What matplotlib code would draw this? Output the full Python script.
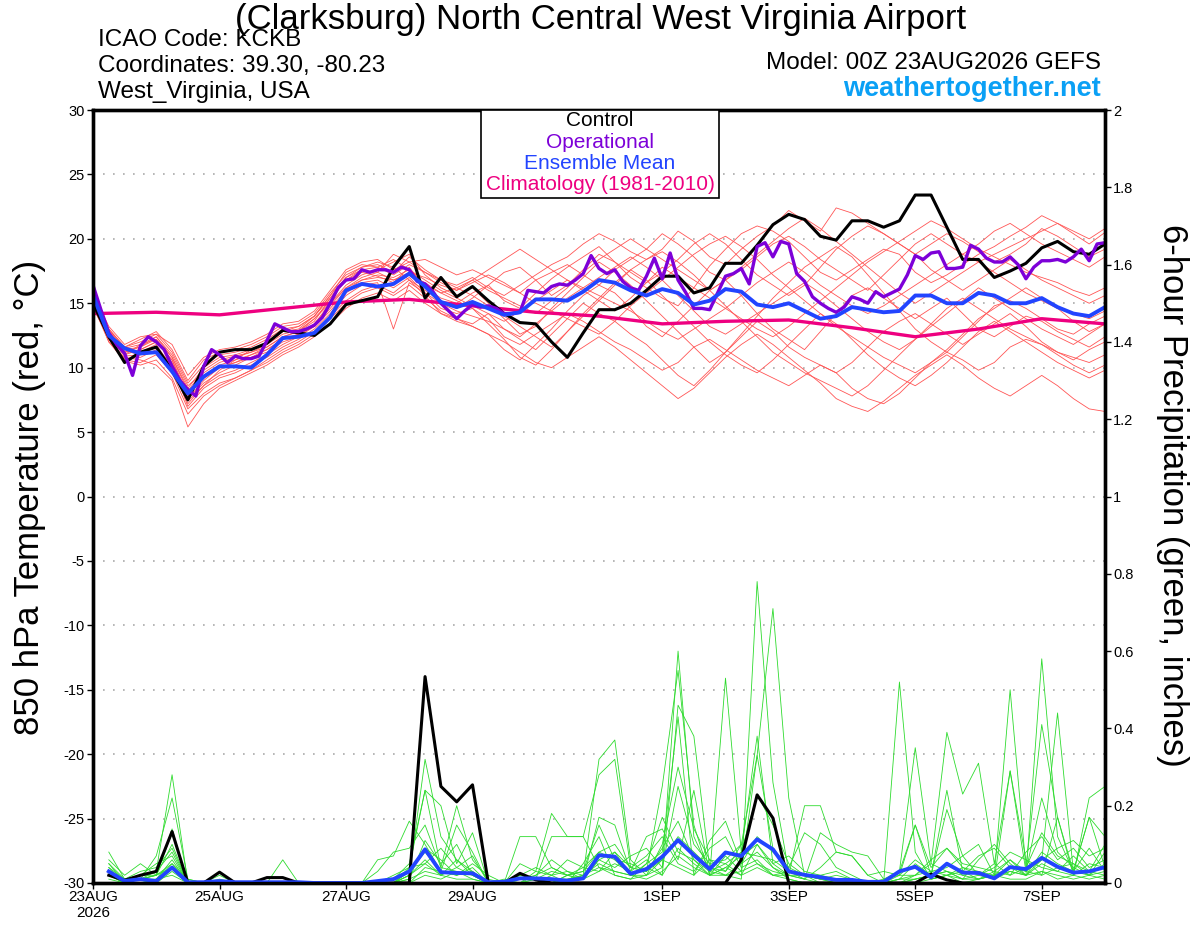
import matplotlib
matplotlib.use('Agg')
import matplotlib.pyplot as plt
from matplotlib.patches import Rectangle
from matplotlib.ticker import FormatStrFormatter
import numpy as np

plt.rcParams['font.family'] = ['Liberation Sans', 'DejaVu Sans']
plt.rcParams['axes.unicode_minus'] = False

# ---- time axes (hours after 00Z 23AUG2026) ----
hours = np.arange(0, 385, 6)        # 65 six-hourly steps
hours_op = np.arange(0, 385, 3)     # operational run is 3-hourly
hours_pcp = hours[1:]               # 6-h precip totals start at +6h
hours_clim = np.arange(0, 385, 24)

tick_hours = [0, 48, 96, 144, 216, 264, 312, 360]
tick_labels = ['23AUG\n2026', '25AUG', '27AUG', '29AUG', '1SEP', '3SEP', '5SEP', '7SEP']

# ---- 850 hPa temperature (C) ----
control_t = [15.0, 12.4, 10.4, 11.2, 11.6, 9.8, 7.5, 10.1, 11.2, 11.4,
             11.4, 11.9, 12.9, 12.7, 12.5, 13.4, 14.9, 15.2, 15.5, 17.8,
             19.4, 15.4, 17.0, 15.5, 16.3, 15.2, 14.2, 13.5, 13.4, 12.0,
             10.8, 12.7, 14.5, 14.5, 15.0, 16.0, 17.1, 17.1, 15.8, 16.2,
             18.1, 18.1, 19.5, 21.1, 21.9, 21.5, 20.2, 19.9, 21.4, 21.4,
             20.9, 21.4, 23.4, 23.4, 20.9, 18.4, 18.4, 17.0, 17.5, 18.1,
             19.3, 19.8, 19.0, 18.8, 19.6]

oper_t = [16.4, 14.5, 12.7, 11.8, 11.1, 9.4, 11.7, 12.4, 12.0, 11.4,
          10.1, 9.0, 8.3, 7.8, 10.1, 11.4, 11.0, 10.4, 10.9, 10.7,
          10.7, 10.9, 12.1, 13.4, 13.1, 12.8, 12.8, 13.0, 13.3, 13.9,
          15.0, 16.2, 16.8, 16.9, 17.6, 17.4, 17.6, 17.6, 17.4, 17.8,
          17.6, 16.7, 16.5, 15.9, 15.0, 14.4, 13.8, 14.4, 14.9, 14.7,
          14.8, 14.6, 14.2, 14.2, 14.3, 16.0, 15.9, 15.8, 16.3, 16.5,
          16.4, 16.8, 17.3, 18.7, 17.7, 17.3, 17.6, 16.7, 16.2, 16.0,
          17.1, 18.5, 16.9, 18.9, 16.8, 15.8, 14.6, 14.6, 14.5, 15.8,
          17.1, 17.3, 17.7, 16.5, 19.4, 19.7, 18.6, 19.8, 19.6, 17.3,
          16.7, 15.5, 15.0, 14.6, 14.3, 14.7, 15.5, 15.3, 15.0, 15.9,
          15.5, 15.8, 16.1, 17.2, 18.7, 18.4, 18.9, 19.0, 17.7, 17.7,
          17.8, 19.5, 19.2, 18.5, 18.2, 18.2, 18.6, 18.0, 16.9, 17.8,
          18.3, 18.3, 18.4, 18.2, 18.6, 19.2, 18.3, 19.6, 19.7]

mean_t = [15.6, 12.5, 11.5, 11.1, 11.2, 9.7, 8.0, 9.3, 10.1, 10.1,
          10.0, 11.0, 12.3, 12.4, 12.7, 13.9, 16.0, 16.5, 16.3, 16.5,
          17.3, 16.3, 15.1, 14.7, 15.1, 14.6, 14.1, 14.3, 15.3, 15.3,
          15.2, 15.9, 16.8, 16.6, 16.0, 15.6, 16.1, 15.8, 14.9, 15.2,
          16.1, 15.9, 14.9, 14.7, 15.0, 14.4, 13.8, 14.0, 14.7, 14.5,
          14.3, 14.4, 15.6, 15.6, 15.0, 15.0, 15.8, 15.6, 15.0, 15.0,
          15.4, 14.7, 14.2, 14.0, 14.7]

clim_t = [14.2, 14.3, 14.1, 14.6, 15.1, 15.3, 14.8, 14.3, 14.0,
          13.4, 13.6, 13.7, 13.1, 12.4, 13.0, 13.8, 13.4]

m01 = [15.2, 12.8, 11.2, 11.6, 12.4, 10.8, 8.2, 9.8, 10.6, 10.9, 11.2, 11.8, 12.6, 12.9, 13.8, 15.2,
       16.8, 17.4, 17.1, 16.6, 17.8, 16.2, 15.4, 15.0, 15.8, 16.4, 15.2, 14.6, 15.8, 16.9, 17.8, 18.6,
       19.4, 18.2, 17.0, 16.2, 15.4, 14.8, 16.2, 17.9, 19.2, 20.4, 21.0, 20.6, 19.8, 18.6, 17.4, 16.8,
       17.6, 18.4, 19.2, 18.8, 17.4, 16.6, 17.2, 18.0, 18.8, 19.4, 20.2, 20.9, 21.8, 21.2, 20.4, 19.6, 20.5]
m02 = [15.0, 12.4, 10.9, 11.0, 11.6, 10.2, 7.6, 8.8, 9.6, 10.2, 10.8, 11.4, 12.2, 12.6, 13.2, 14.4,
       15.8, 16.6, 16.8, 16.2, 17.0, 15.8, 14.6, 14.2, 14.6, 13.8, 12.4, 11.8, 12.6, 13.4, 14.2, 13.6,
       12.8, 12.0, 11.4, 10.6, 9.8, 10.4, 11.6, 12.2, 11.4, 10.6, 9.8, 9.2, 8.6, 9.4, 10.2, 9.6,
       8.4, 7.6, 7.2, 8.0, 9.2, 10.4, 11.2, 10.6, 9.8, 10.4, 11.6, 12.2, 11.8, 11.0, 10.2, 9.6, 10.2]
m03 = [15.6, 13.0, 11.6, 12.2, 12.8, 11.4, 9.0, 10.6, 11.2, 11.4, 11.8, 12.4, 13.2, 13.4, 14.2, 15.8,
       17.2, 17.8, 18.0, 17.4, 18.6, 17.6, 16.8, 16.4, 17.0, 16.2, 15.6, 16.4, 17.2, 18.0, 18.6, 19.6,
       20.4, 19.8, 19.0, 18.4, 19.2, 20.6, 19.8, 18.6, 18.0, 19.2, 20.2, 21.0, 22.2, 21.4, 20.6, 22.4,
       22.0, 21.2, 20.4, 19.6, 18.8, 19.6, 20.4, 19.8, 19.0, 18.2, 18.8, 19.6, 20.8, 20.2, 19.4, 18.6, 19.2]
m04 = [14.8, 12.2, 10.6, 10.4, 11.0, 9.6, 6.8, 8.0, 8.8, 9.2, 9.8, 10.6, 11.4, 12.0, 12.8, 14.0,
       15.2, 16.0, 16.4, 15.8, 16.8, 15.6, 14.2, 13.6, 13.2, 12.6, 11.4, 10.6, 11.8, 13.0, 14.4, 15.6,
       16.4, 15.8, 14.6, 13.2, 12.4, 13.6, 14.8, 16.0, 16.8, 15.6, 14.2, 13.0, 12.2, 11.4, 12.8, 14.2,
       15.6, 16.2, 15.4, 14.6, 13.8, 14.6, 15.4, 14.2, 13.0, 12.4, 13.2, 14.0, 13.6, 12.8, 12.2, 11.6, 12.4]
m05 = [15.4, 12.6, 11.0, 11.8, 12.2, 10.4, 7.8, 9.2, 10.0, 10.4, 10.8, 11.2, 12.0, 12.4, 13.4, 15.0,
       16.4, 17.2, 17.6, 18.2, 18.8, 17.2, 16.2, 15.6, 16.2, 15.0, 13.8, 12.6, 13.2, 14.6, 15.8, 17.0,
       18.2, 17.4, 16.4, 15.2, 14.0, 12.8, 11.6, 10.4, 11.2, 12.6, 14.0, 15.4, 16.6, 17.8, 18.6, 19.4,
       18.6, 17.2, 15.8, 14.4, 13.0, 12.0, 11.2, 12.4, 13.6, 14.8, 15.2, 14.6, 13.8, 13.0, 12.6, 13.4, 14.0]
m06 = [15.0, 12.0, 10.8, 10.6, 10.2, 9.0, 5.4, 7.2, 8.4, 9.0, 9.6, 10.2, 11.0, 11.6, 12.4, 13.4,
       14.6, 15.4, 15.8, 15.2, 16.0, 15.0, 14.2, 13.8, 13.4, 14.2, 13.0, 12.2, 11.4, 12.6, 13.8, 15.0,
       14.2, 13.6, 12.6, 11.8, 10.6, 9.4, 8.6, 9.8, 11.2, 12.4, 13.6, 12.8, 11.6, 10.8, 10.2, 9.6,
       10.4, 11.6, 12.8, 13.6, 14.2, 13.4, 12.6, 11.8, 12.6, 13.4, 14.2, 13.2, 12.0, 11.2, 10.6, 11.4, 12.0]
m07 = [15.8, 13.2, 11.8, 12.4, 12.6, 11.8, 9.4, 10.8, 11.4, 11.6, 12.0, 12.6, 13.4, 13.6, 14.4, 16.0,
       17.6, 18.2, 18.4, 17.6, 18.2, 18.4, 17.8, 17.2, 17.6, 17.0, 16.4, 15.8, 16.8, 17.4, 18.0, 17.2,
       16.4, 17.6, 18.4, 19.2, 20.4, 19.6, 18.6, 17.4, 16.8, 17.6, 18.6, 19.6, 20.2, 19.4, 18.4, 17.6,
       16.8, 16.0, 17.2, 18.4, 19.6, 20.4, 19.6, 18.8, 19.6, 20.6, 21.2, 20.4, 19.6, 19.0, 18.4, 17.8, 18.6]
m08 = [14.6, 12.4, 11.2, 11.4, 12.0, 10.6, 8.0, 9.4, 10.2, 10.6, 11.0, 11.6, 12.4, 12.8, 13.6, 15.4,
       16.8, 17.6, 17.8, 18.4, 17.6, 16.4, 15.8, 16.2, 15.6, 14.8, 14.0, 13.2, 12.4, 11.6, 12.8, 14.0,
       15.2, 16.4, 17.6, 16.8, 15.6, 14.4, 13.2, 12.0, 11.0, 10.2, 9.6, 10.6, 11.8, 13.0, 14.2, 13.4,
       12.2, 11.0, 10.0, 9.2, 8.6, 9.4, 10.4, 11.6, 12.8, 13.6, 12.8, 12.0, 11.2, 10.4, 9.8, 9.2, 9.8]
m09 = [15.2, 12.6, 11.4, 11.2, 11.8, 10.0, 7.2, 8.6, 9.8, 10.6, 11.4, 11.8, 12.8, 13.2, 14.0, 15.6,
       17.0, 17.8, 18.2, 17.8, 16.8, 16.0, 15.2, 14.6, 15.4, 16.4, 17.4, 17.8, 16.8, 15.6, 16.4, 17.6,
       18.8, 18.2, 17.4, 16.6, 17.4, 18.4, 19.6, 20.4, 19.6, 18.4, 17.2, 16.4, 15.6, 16.4, 17.8, 19.2,
       20.2, 21.0, 20.4, 19.6, 18.8, 17.6, 16.8, 16.0, 16.8, 17.6, 18.4, 17.6, 16.8, 16.2, 15.6, 15.0, 15.6]
m10 = [15.4, 12.9, 11.5, 11.8, 12.4, 11.0, 8.6, 9.6, 10.4, 10.8, 11.2, 11.6, 12.4, 12.8, 13.8, 15.0,
       16.2, 16.8, 17.0, 16.8, 17.2, 16.6, 15.8, 15.2, 14.6, 13.4, 12.2, 10.8, 10.2, 11.4, 12.8, 14.2,
       15.4, 16.6, 17.6, 18.4, 19.0, 18.2, 17.2, 16.0, 14.8, 13.6, 12.4, 11.2, 10.4, 9.6, 9.0, 8.4,
       7.8, 8.6, 9.8, 11.0, 12.2, 13.4, 14.6, 15.4, 14.6, 13.8, 13.0, 12.4, 11.8, 11.2, 10.8, 10.4, 11.0]
m11 = [15.0, 12.2, 10.7, 10.8, 11.4, 10.0, 7.4, 8.6, 9.4, 9.8, 10.4, 11.0, 11.8, 12.4, 13.2, 14.6,
       16.0, 16.8, 17.2, 17.0, 17.6, 16.8, 16.0, 15.4, 14.8, 14.2, 13.6, 14.4, 15.2, 16.0, 16.8, 16.2,
       15.6, 15.0, 14.4, 13.6, 12.8, 12.2, 13.0, 13.8, 14.6, 15.6, 16.6, 17.4, 18.2, 17.4, 16.4, 15.6,
       14.8, 14.2, 14.8, 15.6, 16.4, 17.2, 18.0, 18.8, 18.2, 17.4, 16.6, 15.8, 15.2, 14.6, 14.2, 13.8, 14.4]
m12 = [15.6, 12.8, 11.4, 11.6, 12.2, 10.8, 8.4, 10.0, 10.8, 11.0, 11.4, 12.0, 12.8, 13.0, 14.0, 15.4,
       17.0, 17.6, 17.4, 16.8, 17.4, 17.0, 16.4, 16.0, 16.6, 17.2, 16.6, 15.8, 15.0, 14.4, 13.8, 13.2,
       12.6, 13.6, 14.8, 15.8, 16.8, 17.8, 18.8, 19.6, 20.2, 19.4, 18.4, 17.2, 16.2, 15.2, 14.2, 13.2,
       12.4, 11.6, 10.8, 10.2, 9.6, 10.4, 11.4, 12.6, 13.8, 14.6, 15.4, 16.2, 15.4, 14.6, 13.6, 12.8, 13.4]
m13 = [14.8, 12.0, 10.5, 10.2, 10.6, 9.2, 6.4, 7.8, 8.6, 9.2, 9.8, 10.4, 11.2, 11.8, 12.6, 13.8,
       15.0, 15.8, 16.2, 15.6, 16.4, 15.4, 14.4, 13.8, 13.2, 12.6, 12.0, 11.2, 10.4, 10.0, 10.8, 11.6,
       12.4, 11.6, 10.6, 9.6, 8.6, 7.6, 8.4, 9.6, 10.8, 11.8, 12.6, 11.8, 10.8, 9.8, 8.8, 7.6,
       7.0, 6.6, 7.4, 8.4, 9.4, 10.2, 11.0, 10.2, 9.2, 8.4, 7.8, 8.6, 9.4, 8.6, 7.6, 6.8, 6.6]
m14 = [15.2, 12.5, 11.0, 11.4, 12.0, 10.6, 7.6, 9.0, 10.0, 10.4, 11.0, 11.4, 12.2, 12.6, 13.4, 14.8,
       16.2, 17.0, 17.4, 18.8, 18.2, 17.4, 16.6, 16.0, 16.8, 17.6, 18.4, 19.2, 18.4, 17.6, 16.8, 16.0,
       15.2, 14.4, 15.4, 16.6, 17.8, 17.0, 16.2, 15.4, 14.6, 13.8, 13.0, 12.4, 13.2, 14.2, 15.2, 16.2,
       17.2, 18.2, 19.0, 19.8, 20.6, 21.4, 20.8, 20.0, 19.2, 18.6, 18.0, 17.4, 17.0, 16.6, 16.0, 15.6, 16.2]
m15 = [15.4, 12.7, 11.3, 11.0, 11.2, 10.2, 7.0, 8.4, 9.2, 9.6, 10.2, 10.8, 11.6, 12.2, 13.0, 14.2,
       15.6, 16.4, 16.6, 13.0, 16.6, 15.8, 15.0, 14.4, 14.0, 13.6, 13.0, 12.4, 13.4, 14.4, 15.4, 16.2,
       17.0, 17.8, 18.6, 17.8, 16.8, 15.6, 14.4, 13.2, 12.6, 13.4, 14.2, 15.0, 15.8, 16.6, 15.8, 14.8,
       13.8, 12.8, 12.0, 11.4, 12.2, 13.2, 14.2, 15.2, 16.2, 15.4, 14.6, 13.8, 13.0, 12.4, 11.8, 12.6, 13.4]
m16 = [15.8, 13.0, 11.6, 12.0, 12.6, 11.2, 8.8, 10.2, 11.0, 11.2, 11.6, 12.2, 13.0, 13.2, 14.0, 15.6,
       17.4, 18.0, 17.8, 17.2, 18.0, 17.4, 16.8, 16.2, 16.8, 16.0, 15.4, 14.8, 14.2, 15.2, 16.2, 17.4,
       18.4, 19.2, 20.0, 19.2, 18.4, 17.6, 16.8, 16.0, 16.8, 17.8, 18.8, 19.8, 20.8, 21.6, 20.8, 19.8,
       18.8, 17.8, 16.8, 15.8, 15.0, 15.8, 16.6, 17.4, 18.2, 18.8, 19.4, 20.0, 20.6, 21.2, 20.6, 20.0, 20.8]
members_t = [m01, m02, m03, m04, m05, m06, m07, m08,
             m09, m10, m11, m12, m13, m14, m15, m16]

# ---- 6-hour precipitation (inches), +6h .. +384h ----
control_p = [.02, .007, .02, .03, .133, 0, 0, .028, 0, 0,
             .014, .014, 0, 0, 0, 0, 0, 0, 0, 0,
             .534, .25, .21, .254, 0, 0, .025, .008, 0, 0,
             0, 0, 0, 0, 0, 0, 0, 0, 0, 0,
             .06, .228, .168, 0, 0, 0, 0, 0, 0, 0,
             0, 0, .023, .008, 0, 0, 0, 0, 0, 0,
             0, 0, 0, 0]

mean_p = [.03, .005, .01, .005, .04, .002, .002, .005, .002, .002,
          .002, .002, .002, 0, 0, 0, 0, .005, .01, .03,
          .087, .028, .026, .025, .002, .003, .012, .012, .01, .006,
          .012, .072, .068, .024, .036, .068, .111, .072, .036, .079,
          .07, .113, .087, .03, .021, .015, .008, .008, .003, .003,
          .03, .042, .015, .05, .027, .026, .012, .041, .036, .065,
          .042, .027, .03, .041]

p01 = [.08, .01, .02, .03, .28, 0, 0, .01, 0, 0, 0, 0, 0, 0, 0, 0,
       0, 0, 0, .02, .32, .12, .06, .02, 0, 0, .02, .04, .02, 0, .02, .32,
       .37, .06, .02, .04, .60, .12, .03, .05, .02, .10, .04, .01, 0, 0, 0, 0,
       0, 0, .52, .08, .01, .02, 0, .01, .03, .06, .02, .58, .12, .03, .02, .05]
p02 = [.05, 0, .01, .07, .22, .01, 0, 0, 0, 0, 0, 0, 0, 0, 0, 0,
       0, 0, .01, .05, .24, .04, .20, .06, .01, 0, 0, .03, .18, .12, .12, .28,
       .32, .04, .03, .25, .55, .15, .02, .53, .08, .38, .05, .02, .20, .20, .08, .07,
       .02, 0, .03, .35, .05, .39, .23, .31, .05, .29, .03, .06, .44, .03, .17, .04]
p03 = [.06, .02, .05, .02, .14, 0, 0, 0, 0, 0, 0, .06, 0, 0, 0, 0,
       0, .06, .07, .16, .10, .03, .15, .08, 0, 0, .12, .12, .04, .02, .01, .17,
       .15, .03, .06, .02, .46, .38, .04, .02, .01, .78, .26, .03, .01, .13, .10, .08,
       .07, .01, .02, .15, .02, .24, .03, .01, .02, .50, .04, .41, .17, .02, .22, .25]
p04 = [.04, 0, .01, .02, .13, 0, 0, .02, 0, 0, 0, 0, 0, 0, 0, 0,
       0, 0, 0, .04, .24, .20, .05, .13, 0, 0, .02, .01, .12, .12, .12, .04,
       .02, .01, .05, .08, .43, .02, .06, .03, .10, .33, .71, .22, .02, .01, 0, 0,
       0, 0, .01, .05, .02, .19, .07, .02, .01, .29, .06, .02, .17, .03, .17, .12]
p05 = [.03, .01, .01, .01, .05, 0, 0, 0, 0, 0, 0, 0, 0, 0, 0, 0,
       0, 0, 0, .03, .08, .03, .02, .04, 0, 0, .05, .03, .02, .06, .04, .08,
       .10, .04, .07, .12, .05, .03, .09, .12, .04, .06, .02, .03, .02, .01, 0, 0,
       0, .01, .03, .15, .04, .09, .04, .02, .05, .02, .08, .12, .06, .09, .04, .06]
p06 = [.02, 0, 0, .01, .06, 0, 0, 0, 0, 0, 0, 0, 0, 0, 0, 0,
       0, .03, .08, .09, .15, .04, .03, .02, 0, .01, 0, .01, .03, .02, .03, .15,
       .06, .02, .05, .17, .08, .06, .02, .07, .03, .33, .09, .04, .13, .10, .04, .02,
       0, 0, 0, .02, .06, .09, .05, .04, .03, .02, .04, .13, .07, .05, .03, .02]
p07 = [.05, .01, .03, .04, .09, 0, 0, 0, 0, 0, 0, 0, 0, 0, 0, 0,
       0, 0, .02, .04, .05, .09, .04, .07, 0, 0, .01, .02, .06, .03, .02, .06,
       .04, .07, .09, .04, .25, .10, .05, .06, .10, .05, .03, .02, .01, .04, .08, .07,
       .02, .03, .02, .02, .03, .04, .07, .10, .02, .03, .02, .06, .09, .11, .07, .09]
p08 = [.03, 0, .02, .05, .07, 0, 0, 0, 0, 0, 0, 0, 0, 0, 0, 0,
       0, 0, 0, .01, .11, .05, .10, .02, 0, 0, 0, 0, .01, .01, .02, .05,
       .03, .02, .02, .06, .12, .08, .04, .03, .08, .07, .06, .03, .02, .01, .02, .01,
       0, 0, .01, .01, .02, .03, .01, .06, .10, .05, .02, .03, .01, .02, .05, .04]
p09 = [.02, 0, 0, 0, .03, 0, 0, 0, 0, 0, 0, 0, 0, 0, 0, 0,
       0, 0, 0, 0, .02, .01, .03, .01, 0, 0, 0, .01, 0, .02, .01, .03,
       .05, .03, .12, .14, .06, .24, .02, .04, .07, .10, .05, .07, .03, .02, .01, 0,
       0, 0, .03, .04, .01, .02, .04, .03, .01, .03, .02, .05, .03, .07, .03, .10]
p10 = [.01, 0, .01, .02, .04, 0, 0, 0, 0, 0, 0, 0, 0, 0, 0, 0,
       0, 0, 0, .02, .05, .02, .06, .03, 0, 0, 0, 0, 0, 0, .05, .12,
       .02, .01, .02, .10, .30, .14, .06, .05, .08, .23, .15, .05, .02, 0, 0, 0,
       0, 0, 0, .01, .02, .05, .02, .01, .02, .04, .03, .22, .08, .04, .02, .08]
p11 = [.02, .01, .01, .02, .05, .01, 0, 0, 0, 0, 0, 0, 0, 0, 0, 0,
       0, 0, 0, 0, .04, .03, .02, .05, .02, 0, 0, 0, 0, .02, .04, .03,
       .08, .04, .03, .06, .04, .02, .11, .16, .05, .08, .04, .02, .01, 0, 0, 0,
       0, 0, 0, 0, .01, .02, .03, .07, .09, .04, .02, .08, .05, .03, .09, .03]
p12 = [.03, 0, .01, .03, .08, 0, 0, 0, 0, 0, 0, 0, 0, 0, 0, 0,
       0, 0, 0, .03, .09, .06, .02, .03, 0, 0, 0, .02, .04, .02, .03, .08,
       .06, .05, .03, .09, .16, .06, .03, .02, .05, .12, .08, .04, .02, .02, .03, .01,
       0, 0, .02, .06, .03, .02, .01, .02, .04, .08, .06, .04, .03, .02, .01, .02]
p13 = [.02, 0, 0, .01, .02, 0, 0, 0, 0, 0, 0, 0, 0, 0, 0, 0,
       0, 0, 0, .01, .03, .02, .01, .01, 0, 0, 0, 0, 0, .01, .02, .04,
       .03, .02, .01, .03, .07, .04, .02, .02, .03, .05, .02, .01, 0, 0, 0, 0,
       0, 0, 0, .01, .02, .03, .01, .01, .02, .01, .01, .03, .02, .01, .02, .01]
p14 = [.04, .01, .02, .02, .10, 0, 0, 0, 0, 0, 0, 0, 0, 0, 0, 0,
       0, 0, 0, .02, .06, .02, .04, .02, 0, 0, 0, 0, .02, .03, .01, .06,
       .08, .02, .04, .02, .09, .05, .02, .04, .02, .04, .02, .02, .02, .01, .01, .01,
       0, 0, .01, .02, .05, .03, .02, .03, .02, .06, .03, .02, .04, .05, .02, .03]
members_p = [p01, p02, p03, p04, p05, p06, p07, p08, p09, p10, p11, p12, p13, p14]

# colours
RED = '#FF5555'
GREEN = '#2EDB2E'
PURPLE = '#7D00D8'
BLUE = '#2244FF'
PINK = '#EE0080'


def fx(px):
    return px / 1200.0


def fy(py):
    return 1 - py / 927.0


fig = plt.figure(figsize=(12, 9.27), dpi=100)
ax = fig.add_axes([fx(93), 44 / 927.0, 1012 / 1200.0, 773 / 927.0])
ax2 = ax.twinx()

# temperature
for m in members_t:
    ax.plot(hours, m, color=RED, lw=0.6)
ax.plot(hours_clim, clim_t, color=PINK, lw=2.4)
ax.plot(hours, control_t, color='black', lw=2.2)
ax.plot(hours_op, oper_t, color=PURPLE, lw=2.4)
ax.plot(hours, mean_t, color=BLUE, lw=2.8)

# precipitation
for m in members_p:
    ax2.plot(hours_pcp, m, color=GREEN, lw=0.6)
ax2.plot(hours_pcp, control_p, color='black', lw=2.2)
ax2.plot(hours_pcp, mean_p, color=BLUE, lw=2.8)

ax.set_xlim(0, 384)
ax.set_ylim(-30, 30)
ax2.set_ylim(0, 2)

ax.set_xticks(tick_hours)
ax.set_xticklabels(tick_labels, fontsize=11)
ax.set_yticks(range(-30, 31, 5))
ax2.set_yticks(np.arange(0, 2.01, 0.2))
ax2.yaxis.set_major_formatter(FormatStrFormatter('%g'))

ax.yaxis.grid(True, color='#AAAAAA', linestyle=(0, (1, 5)), lw=1.2)
ax.tick_params(axis='y', direction='out', length=4, width=1, labelsize=10.5, pad=2)
ax2.tick_params(axis='y', direction='out', length=4, width=1, labelsize=10.5, pad=2)
ax.tick_params(axis='x', direction='out', length=4, width=1, pad=1)

for a in (ax, ax2):
    for s in a.spines.values():
        s.set_linewidth(2.4)

# legend box
ax2.add_patch(Rectangle((0.3834, 0.886), 0.2352, 0.114, transform=ax2.transAxes,
                        facecolor='white', edgecolor='black', lw=1.2, zorder=10))
leg = [('Control', 'black', 0.9858), ('Operational', PURPLE, 0.9586),
       ('Ensemble Mean', BLUE, 0.9314), ('Climatology (1981-2010)', PINK, 0.903)]
for txt, col, yy in leg:
    ax2.text(0.501, yy, txt, color=col, fontsize=15, ha='center', va='center',
             transform=ax2.transAxes, zorder=11)

# header texts
fig.text(fx(601), fy(20), '(Clarksburg) North Central West Virginia Airport',
         fontsize=25, ha='center', va='center')
fig.text(fx(98), fy(40), 'ICAO Code: KCKB', fontsize=17.5, ha='left', va='center')
fig.text(fx(98), fy(66), 'Coordinates: 39.30, -80.23', fontsize=17.5, ha='left', va='center')
fig.text(fx(98), fy(92), 'West_Virginia, USA', fontsize=17.5, ha='left', va='center')
fig.text(fx(1101), fy(63), 'Model: 00Z 23AUG2026 GEFS', fontsize=17.5, ha='right', va='center')
fig.text(fx(1101), fy(89), 'weathertogether.net', fontsize=19.5, fontweight='bold',
         color='#0AA0F5', ha='right', va='center')

fig.text(fx(30), fy(497), '850 hPa Temperature (red, °C)', fontsize=25,
         rotation=90, ha='center', va='center')
fig.text(fx(1172), fy(495), '6-hour Precipitation (green, inches)', fontsize=25,
         rotation=-90, ha='center', va='center')

fig.savefig('out.png', dpi=100)
